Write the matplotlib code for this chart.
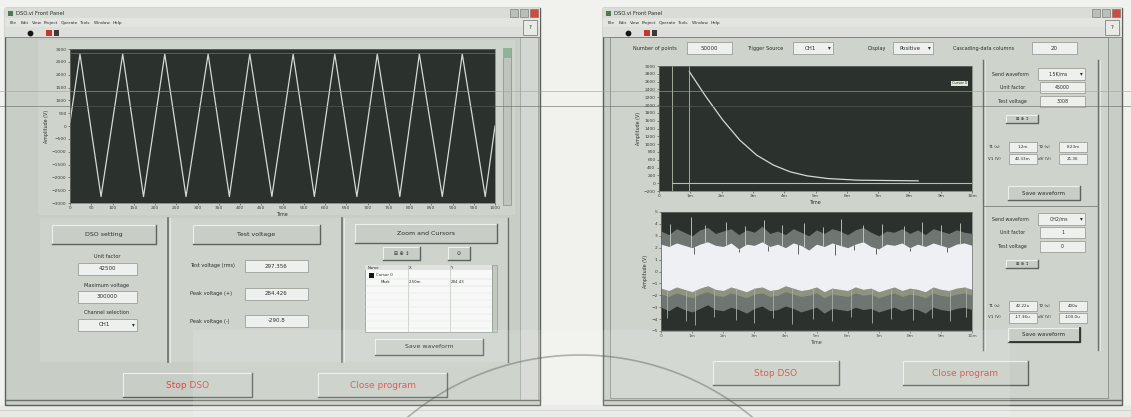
import matplotlib
matplotlib.use("Agg")
import matplotlib.pyplot as plt
from matplotlib.patches import Rectangle
import numpy as np

W, H = 1131, 417

# ---- left scope: AC test voltage (peaks and troughs of the trace)
sine_t = [0, 23.5, 73, 124, 173, 223, 273, 325, 375, 423, 475, 525,
          575, 623, 675, 723, 776, 822, 876, 923, 977, 1000]
sine_v = [150, 2800, -2750, 2800, -2750, 2800, -2750, 2800, -2750, 2800, -2750, 2800,
          -2750, 2800, -2750, 2800, -2750, 2800, -2750, 2800, -2750, 0]
left_xticks = list(range(0, 1001, 50))
left_yticks = list(range(-3000, 3001, 500))

# ---- right scope, CH1: decay after trigger
decay_t = [0.97, 1.5, 2.04, 2.58, 3.12, 3.66, 4.19, 4.73, 5.38, 6.35, 8.28]
decay_v = [2855, 2214, 1615, 1103, 718, 462, 291, 188, 120, 77, 60]
cursor_t = [0.43, 0.97]
cursor_v = 0
top_yticks = list(range(-200, 3001, 200))
time_ticks = list(range(0, 11))

# ---- right scope, CH2: noise band envelopes
band_hi = [2.3, 2.1, 2.4, 2.2, 2.0, 2.3, 2.5, 2.2, 2.1, 2.4, 1.9, 2.3, 2.2, 2.5, 2.1, 2.3, 2.0,
           2.4, 2.2, 1.8, 2.3, 2.1, 2.4, 2.2, 2.0, 2.3, 2.5, 2.1, 1.9, 2.3, 2.2, 2.4, 2.0, 2.3,
           2.1, 2.4, 2.2, 2.0, 2.3, 2.4, 2.2]
band_lo = [-1.4, -1.6, -1.3, -1.5, -1.7, -1.4, -1.2, -1.5, -1.6, -1.3, -1.5, -1.7, -1.4, -1.3,
           -1.6, -1.5, -1.2, -1.4, -1.6, -1.5, -1.3, -1.7, -1.4, -1.5, -1.6, -1.3, -1.5, -1.4,
           -1.7, -1.5, -1.3, -1.6, -1.4, -1.5, -1.7, -1.3, -1.5, -1.6, -1.4, -1.3, -1.5]
fringe_hi = [3.4, 3.1, 3.6, 3.3, 3.0, 3.5, 3.7, 3.2, 3.4, 3.6, 3.1, 3.5, 3.3, 3.8, 3.2, 3.4, 3.1,
             3.6, 3.3, 3.0, 3.5, 3.2, 3.6, 3.4, 3.1, 3.5, 3.7, 3.3, 3.0, 3.4, 3.3, 3.6, 3.2, 3.5,
             3.1, 3.6, 3.4, 3.2, 3.5, 3.3, 3.2]
fringe_lo = [-3.0, -3.3, -2.9, -3.2, -3.4, -3.1, -2.8, -3.2, -3.3, -3.0, -3.2, -3.5, -3.1, -2.9,
             -3.3, -3.2, -2.9, -3.1, -3.4, -3.2, -3.0, -3.5, -3.1, -3.2, -3.3, -3.0, -3.2, -3.1,
             -3.4, -3.2, -3.0, -3.3, -3.1, -3.2, -3.5, -3.0, -3.2, -3.3, -3.1, -3.0, -3.2]
spike_up_t = [0.3, 0.95, 1.4, 2.1, 2.7, 3.3, 3.9, 4.6, 5.2, 5.8, 6.5, 7.1, 7.8, 8.4, 9.0, 9.6]
spike_up_v = [4.0, 4.6, 3.9, 4.2, 3.8, 4.3, 3.9, 4.1, 3.7, 4.4, 3.9, 4.0, 3.8, 4.2, 3.9, 4.1]
spike_dn_t = [0.2, 0.8, 1.1, 1.7, 2.4, 3.0, 3.6, 4.2, 4.9, 5.5, 6.1, 6.8, 7.4, 8.1, 8.7, 9.3, 9.8]
spike_dn_v = [-3.9, -4.2, -4.5, -3.8, -4.1, -4.3, -3.9, -4.4, -4.0, -4.2, -3.8, -4.3, -4.0,
              -4.1, -3.9, -4.2, -3.8]
dark_in_t = [1.05, 2.5, 3.45, 4.4, 5.6, 6.2, 6.9, 8.0, 9.2]
dark_in_v = [1.5, 1.6, 1.7, 1.5, 1.4, 1.8, 1.5, 1.7, 1.6]
bot_yticks = list(range(-5, 6))

# ---- front panel readouts
dso_labels = ["Unit factor", "Maximum voltage", "Channel selection"]
dso_values = ["42500", "300000", "CH1"]
test_labels = ["Test voltage (rms)", "Peak voltage (+)", "Peak voltage (-)"]
test_values = ["297.356", "284.426", "-290.8"]
cursor_table = [["Name", "X", "Y"], ["Cursor 0", "", ""], ["Mark", "2.50m", "284.43"]]
top_controls = [("Number of points", "50000", False), ("Trigger Source", "CH1", True),
                ("Display", "Positive", True), ("Cascading-data columns", "20", False)]
ch_panels = [
    {"send": "1.5K/ms", "unit": "45000", "test": "3008",
     "cursors": [("T1 (s)", "1.2m"), ("T2 (s)", "8.23m"), ("V1 (V)", "40.33m"), ("dV (V)", "21.36")]},
    {"send": "CH2/ms", "unit": "1", "test": "0",
     "cursors": [("T1 (s)", "42.22u"), ("T2 (s)", "400u"), ("V1 (V)", "-17.36u"), ("dV (V)", "-100.0u")]},
]
menu_items = ["File", "Edit", "View", "Project", "Operate", "Tools", "Window", "Help"]
menu_dx = [5, 16, 27, 39, 56, 75, 89, 108]
tool_icons = "⊞ ⊕ ↕"

PAGE = "#f1f1ed"
FACE = "#c8cdc6"
PANEL = "#ced3cc"
FIELD = "#eef0ee"
DARK = "#2a2f2b"
PLOT_BG = "#2b312d"
RED = "#e2463c"
TRACE = "#d3dad3"

fig = plt.figure(figsize=(W / 100, H / 100), dpi=100)
fig.patch.set_facecolor(PAGE)
ui = fig.add_axes([0, 0, 1, 1])
ui.set_xlim(0, W)
ui.set_ylim(H, 0)
ui.axis("off")


def rect(x0, y0, x1, y1, fc, ec="none", lw=0.6, z=1, ax=None):
    (ax or ui).add_patch(Rectangle((x0, y0), x1 - x0, y1 - y0, facecolor=fc,
                                   edgecolor=ec, linewidth=lw, zorder=z))


def bevel(x0, y0, x1, y1, fc=FACE, z=2, dark="#5d635d"):
    rect(x0, y0, x1, y1, fc, z=z)
    ui.plot([x0, x0, x1], [y1, y0, y0], color="#eef0ec", lw=0.8, zorder=z + 0.1)
    ui.plot([x0, x1, x1], [y1, y1, y0], color=dark, lw=1.0, zorder=z + 0.1)


def label(x, y, s, size=4, color=DARK, ha="left", z=5, **kw):
    ui.text(x, y, s, fontsize=size, color=color, ha=ha, va="center", zorder=z, **kw)


def field(x0, y0, x1, y1, s, drop=False, size=4):
    rect(x0, y0, x1, y1, FIELD, ec="#8d938d", lw=0.5, z=3)
    label((x0 + x1) / 2 - (3 if drop else 0), (y0 + y1) / 2, s, size=size, ha="center")
    if drop:
        label(x1 - 4, (y0 + y1) / 2, "▾", size=4, ha="center")


def button(x0, y0, x1, y1, s, color=DARK, size=4.5):
    bevel(x0, y0, x1, y1)
    label((x0 + x1) / 2, (y0 + y1) / 2, s, size=size, color=color, ha="center")


def window(x0, y0, x1, y1, title):
    rect(x0, y0, x1, y1, FACE, ec="#5a605a", lw=1.0, z=0.5)
    rect(x0, y0, x1, y0 + 10, "#d9ddd8", z=1)
    rect(x0 + 3, y0 + 2.5, x0 + 8, y0 + 7.5, "#4d7a52", z=2)
    label(x0 + 11, y0 + 5, title, size=3.8)
    for i, c in enumerate(["#b9bfb9", "#b9bfb9", "#d8473b"]):
        rect(x1 - 30 + i * 10, y0 + 1, x1 - 22 + i * 10, y0 + 9, c, ec="#6b716b", lw=0.4, z=2)
    rect(x0, y0 + 10, x1, y0 + 19, "#e3e5e1", z=1)
    for dx, item in zip(menu_dx, menu_items):
        label(x0 + dx, y0 + 14.5, item, size=3.1)
    rect(x0, y0 + 19, x1, y0 + 29, "#dcdfda", z=1)
    ui.scatter([x0 + 25], [y0 + 25], s=10, color="#151515", zorder=3)
    rect(x0 + 41, y0 + 22, x0 + 47, y0 + 28, "#c8352f", z=3)
    rect(x0 + 49, y0 + 22, x0 + 54, y0 + 28, "#3a3a3a", z=3)
    rect(x1 - 17, y0 + 12, x1 - 3, y0 + 27, "#e8eae6", ec="#6b716b", lw=0.5, z=3)
    label(x1 - 10, y0 + 19.5, "?", size=4, ha="center")
    ui.plot([x0, x1], [y0 + 29, y0 + 29], color="#7c827c", lw=0.6, zorder=3)


def scope(x0, y0, x1, y1):
    ax = fig.add_axes([x0 / W, 1 - y1 / H, (x1 - x0) / W, (y1 - y0) / H])
    ax.set_facecolor(PLOT_BG)
    for sp in ax.spines.values():
        sp.set_color("#6f756f")
        sp.set_linewidth(0.5)
    ax.tick_params(labelsize=3.2, colors="#3a3f3a", length=1.5, width=0.4, pad=1)
    return ax


# ===== left window =====
window(5, 8, 540, 405, "DSO.vi Front Panel")
rect(38, 40, 515, 215, PANEL, z=1)
rect(520, 37, 538, 400, "#d3d7d1", ec="#8a908a", lw=0.4, z=1)
rect(503, 48, 511, 205, "#bfc5bd", ec="#7a807a", lw=0.4, z=2)
rect(503, 48, 511, 58, "#8fb39a", z=3)

axl = scope(70, 49, 495, 203)
axl.plot(sine_t, sine_v, color=TRACE, lw=0.9)
axl.axhline(2850, color="#7f877f", lw=0.4)
axl.set_xlim(0, 1000)
axl.set_ylim(-3000, 3000)
axl.set_xticks(left_xticks)
axl.set_yticks(left_yticks)
axl.set_xlabel("Time", fontsize=3.4, labelpad=1, color=DARK)
axl.set_ylabel("Amplitude (V)", fontsize=3.4, labelpad=2, color=DARK)

# lower control groups
rect(40, 218, 510, 362, PANEL, z=1)
for xd in (168, 342):
    ui.plot([xd, xd], [218, 362], color="#6a706a", lw=1.2, zorder=2)
    ui.plot([xd + 2, xd + 2], [218, 362], color="#eceeea", lw=0.6, zorder=2)
ui.plot([508, 508], [218, 362], color="#6a706a", lw=1.0, zorder=2)

button(52, 225, 156, 244, "DSO setting")
for i, (lab, val) in enumerate(zip(dso_labels, dso_values)):
    yc = 257 + i * 28
    label(107, yc, lab, size=3.6, ha="center")
    field(78, yc + 6, 137, yc + 18, val, drop=(i == 2))

button(193, 225, 320, 244, "Test voltage")
for i, (lab, val) in enumerate(zip(test_labels, test_values)):
    yc = 266 + i * 27.5
    label(190, yc, lab, size=3.6)
    field(245, yc - 6, 308, yc + 6, val)

button(355, 224, 497, 243, "Zoom and Cursors")
button(383, 247, 420, 260, tool_icons, size=3.5)
button(448, 247, 470, 260, "⊙", size=3.5)
rect(365, 265, 492, 332, "#f7f8f7", ec="#8a908a", lw=0.5, z=3)
rect(492, 265, 497, 332, "#c3c8c1", ec="#8a908a", lw=0.4, z=3)
rect(365, 265, 492, 270, "#dfe2de", z=3.5)
col_x = [367, 408, 450]
for xc in col_x[1:]:
    ui.plot([xc, xc], [265, 332], color="#b5bab5", lw=0.4, zorder=4)
for r, row in enumerate(cursor_table):
    yc = 268 + r * 7
    if r:
        ui.plot([365, 492], [yc + 3.5, yc + 3.5], color="#d0d4d0", lw=0.3, zorder=4)
    for c, s in enumerate(row):
        dx = 1
        if c == 0 and r == 1:
            dx = 9
        elif c == 0 and r == 2:
            dx = 14
        label(col_x[c] + dx, yc, s, size=2.8)
rect(369, 273, 374, 278, "#151515", z=5)
for r in range(3, 9):
    ui.plot([365, 492], [268 + r * 7 + 3.5] * 2, color="#e2e5e2", lw=0.3, zorder=4)
button(375, 339, 483, 355, "Save waveform")

button(123, 373, 252, 397, "Stop DSO", color=RED, size=6.5)
button(318, 373, 447, 397, "Close program", color=RED, size=6.5)
ui.plot([5, 540], [400, 400], color="#6a706a", lw=1.0, zorder=2)

# ===== right window =====
window(603, 8, 1122, 405, "DSO.vi Front Panel")
rect(610, 37, 1108, 398, PANEL, ec="#7c827c", lw=0.5, z=1)

ctrl_pos = [(633, 687, 732), (747, 793, 833), (867, 893, 933), (953, 1032, 1077)]
for (lx, fx0, fx1), (lab, val, drop) in zip(ctrl_pos, top_controls):
    label(lx, 48, lab, size=3.6)
    field(fx0, 42, fx1, 54, val, drop=drop)

axt = scope(659, 66, 972, 191)
axt.plot(decay_t, decay_v, color=TRACE, lw=0.9)
for ct in cursor_t:
    axt.axvline(ct, color="#b6bea6", lw=0.6)
axt.plot([cursor_t[0], 10], [cursor_v, cursor_v], color="#b8c88c", lw=0.8)
axt.text(0.985, 0.86, "Cursor 0", transform=axt.transAxes, fontsize=2.6, ha="right",
         va="center", color=DARK, bbox=dict(facecolor="#dfe8d6", edgecolor="none", pad=0.6))
axt.set_xlim(0, 10)
axt.set_ylim(-200, 3000)
axt.set_xticks(time_ticks)
axt.set_xticklabels(["0"] + [f"{t}m" for t in time_ticks[1:]])
axt.set_yticks(top_yticks)
axt.set_xlabel("Time", fontsize=3.4, labelpad=1, color=DARK)
axt.set_ylabel("Amplitude (V)", fontsize=3.4, labelpad=2, color=DARK)

axb = scope(661, 212, 972, 331)
band_t = np.linspace(0, 10, len(band_hi))
axb.fill_between(band_t, fringe_lo, fringe_hi, color="#6f7671", lw=0)
axb.vlines(spike_up_t, np.interp(spike_up_t, band_t, band_hi), spike_up_v, color="#c9cfc9", lw=0.6)
axb.vlines(spike_dn_t, spike_dn_v, np.interp(spike_dn_t, band_t, band_lo), color="#aab0a6", lw=0.6)
axb.fill_between(band_t, [v - 0.5 for v in band_lo], band_lo, color="#8e927f", lw=0)
axb.fill_between(band_t, band_lo, band_hi, color="#eef0f3", lw=0)
axb.vlines(dark_in_t, dark_in_v, np.interp(dark_in_t, band_t, band_hi), color="#5b625d", lw=0.7)
axb.set_xlim(0, 10)
axb.set_ylim(-5, 5)
axb.set_xticks(time_ticks)
axb.set_xticklabels(["0"] + [f"{t}m" for t in time_ticks[1:]])
axb.set_yticks(bot_yticks)
axb.set_xlabel("Time", fontsize=3.4, labelpad=1, color=DARK)
axb.set_ylabel("Amplitude (V)", fontsize=3.4, labelpad=2, color=DARK)

# channel side panels
for xd in (983, 1098):
    ui.plot([xd, xd], [60, 350], color="#6a706a", lw=1.0, zorder=2)
    ui.plot([xd + 2, xd + 2], [60, 350], color="#eceeea", lw=0.5, zorder=2)
ui.plot([983, 1098], [206, 206], color="#7a807a", lw=0.6, zorder=2)
for k, (y_top, ch) in enumerate(zip((74, 219), ch_panels)):
    label(992, y_top, "Send waveform", size=3.4)
    field(1038, y_top - 6, 1085, y_top + 6, ch["send"], drop=True, size=3.4)
    label(1000, y_top + 13.5, "Unit factor", size=3.4)
    field(1040, y_top + 8, 1085, y_top + 19, ch["unit"], size=3.4)
    label(998, y_top + 27, "Test voltage", size=3.4)
    field(1040, y_top + 22, 1085, y_top + 33, ch["test"], size=3.4)
    button(1006, y_top + 41, 1038, y_top + 49, tool_icons, size=3)
    cy = (147, 306)[k]
    for j, (lab, val) in enumerate(ch["cursors"]):
        col, row = j % 2, j // 2
        lx = 988 + col * 50
        yc = cy + row * 11.5
        label(lx, yc, lab, size=3.0)
        field(lx + 21, yc - 5, lx + 49, yc + 5, val, size=3.0)
    sy = (186, 328)[k]
    button(1008, sy, 1080, sy + 14, "Save waveform", size=4)
ui.plot([1010, 1080, 1080], [342, 342, 328], color="#2e332e", lw=1.3, zorder=3)

button(713, 361, 839, 385, "Stop DSO", color=RED, size=6.5)
button(903, 361, 1028, 385, "Close program", color=RED, size=6.5)
ui.plot([603, 1122], [400, 400], color="#6a706a", lw=1.0, zorder=2)

# strip under both windows
rect(0, 405, W, H, "#e9eae6", z=0.2)
ui.plot([0, W], [410, 410], color="#c7cac5", lw=0.6, zorder=0.3)

# scanner streaks and stamp arc on top of everything
over = fig.add_axes([0, 0, 1, 1], zorder=20)
over.set_xlim(0, W)
over.set_ylim(H, 0)
over.axis("off")
over.patch.set_alpha(0)
over.plot([0, W], [91, 91], color="#c48fb4", lw=0.7, alpha=0.6)
over.plot([0, W], [106, 106], color="#5e625e", lw=0.7, alpha=0.55)
over.add_patch(Rectangle((193, 330), 817, 87, facecolor="white", alpha=0.12, edgecolor="none"))
ang = np.linspace(np.radians(35), np.radians(150), 200)
over.plot(580 + 270 * np.cos(ang), 625 - 270 * np.sin(ang), color="#5c615c", lw=1.2, alpha=0.45)

fig.savefig("out.png", dpi=100)
